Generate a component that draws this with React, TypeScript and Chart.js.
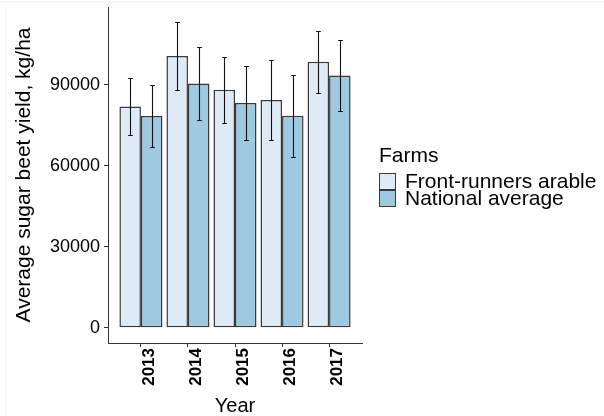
import React, { useEffect, useRef } from 'react';
import { Chart, registerables } from 'chart.js';

Chart.register(...registerables);

const years = ['2013', '2014', '2015', '2016', '2017'];
const frontRunners = [81900, 100600, 88100, 84300, 98500];
const frontRunnersSd = [10700, 12500, 12150, 14800, 11550];
const nationalAvg = [78400, 90400, 83200, 78500, 93400];
const nationalAvgSd = [11300, 13500, 13600, 15250, 13250];
const yTicks = [0, 30000, 60000, 90000];
const seriesNames = ['Front-runners arable', 'National average'];
const seriesColors = ['#DEEBF7', '#9ECAE1'];
const legendTitle = 'Farms';
const xTitle = 'Year';
const yTitle = 'Average sugar beet yield, kg/ha';

const FONT = "'Liberation Sans', Arial, sans-serif";
const OUTLINE = '#3a3a3a';

const errorBarPlugin = {
  id: 'errorBars',
  afterDatasetsDraw(chart: any) {
    const ctx = chart.ctx;
    const xs = chart.scales.x;
    const ys = chart.scales.y;
    const capHalf = (xs.getPixelForValue(1.1) - xs.getPixelForValue(1)) / 2;
    ctx.save();
    ctx.strokeStyle = '#111';
    ctx.lineWidth = 1.1;
    chart.data.datasets.forEach((ds: any, di: number) => {
      const meta = chart.getDatasetMeta(di);
      meta.data.forEach((bar: any, i: number) => {
        const v = ds.data[i].y;
        const sd = ds.sd[i];
        const x = Math.round(bar.x) + 0.5;
        const yT = Math.round(ys.getPixelForValue(v + sd)) + 0.5;
        const yB = Math.round(ys.getPixelForValue(v - sd)) + 0.5;
        ctx.beginPath();
        ctx.moveTo(x, yT);
        ctx.lineTo(x, yB);
        ctx.moveTo(x - capHalf, yT);
        ctx.lineTo(x + capHalf, yT);
        ctx.moveTo(x - capHalf, yB);
        ctx.lineTo(x + capHalf, yB);
        ctx.stroke();
      });
    });
    ctx.restore();
  },
};

const legendPlugin = {
  id: 'customLegend',
  beforeDraw(chart: any) {
    const ctx = chart.ctx;
    ctx.save();
    ctx.fillStyle = '#f1faf1';
    ctx.fillRect(0, 1, chart.width, 2);
    ctx.fillRect(5, 6, 1, chart.height - 6);
    ctx.restore();
  },
  afterDraw(chart: any) {
    const ctx = chart.ctx;
    const left = chart.chartArea.right + 17;
    ctx.save();
    ctx.font = `21px ${FONT}`;
    ctx.fillStyle = '#000';
    ctx.textBaseline = 'middle';
    ctx.textAlign = 'left';
    ctx.fillText(legendTitle, left, 156);
    const key = 17;
    const top0 = 173;
    seriesNames.forEach((name, k) => {
      const top = top0 + k * key;
      ctx.fillStyle = seriesColors[k];
      ctx.fillRect(left, top, key, key);
      ctx.strokeStyle = OUTLINE;
      ctx.lineWidth = 1;
      ctx.strokeRect(left + 0.5, top + 0.5, key - 1, key - 1);
      ctx.fillStyle = '#000';
      ctx.fillText(name, left + 26, top + key / 2 + 0.5);
    });
    ctx.restore();
  },
};

export default function App() {
  const ref = useRef<HTMLCanvasElement | null>(null);

  useEffect(() => {
    document.body.style.margin = '0';
    const canvas = ref.current;
    if (!canvas) return;
    const allTops = [
      ...frontRunners.map((v, i) => v + frontRunnersSd[i]),
      ...nationalAvg.map((v, i) => v + nationalAvgSd[i]),
    ];
    const top = Math.max(...allTops);
    const pad = top * 0.05;

    const chart = new Chart(canvas, {
      type: 'bar',
      data: {
        datasets: [frontRunners, nationalAvg].map((vals, k) => ({
          label: seriesNames[k],
          data: vals.map((v, i) => ({ x: i + 1, y: v })),
          backgroundColor: seriesColors[k],
          borderColor: OUTLINE,
          borderWidth: 1.5,
          borderSkipped: false,
          categoryPercentage: 0.915,
          barPercentage: 1,
          sd: k === 0 ? frontRunnersSd : nationalAvgSd,
        })) as any,
      },
      options: {
        animation: false,
        responsive: false,
        devicePixelRatio: 1,
        layout: { padding: { left: 0, top: 7, right: 242, bottom: 0 } },
        plugins: {
          legend: { display: false },
          tooltip: { enabled: false },
        },
        scales: {
          x: {
            type: 'linear',
            min: 0.3,
            max: 5.7,
            offset: false,
            afterBuildTicks: (s: any) => {
              s.ticks = years.map((_, i) => ({ value: i + 1 }));
            },
            afterFit: (s: any) => {
              s.height = 73;
              s.paddingLeft = 0;
              s.paddingRight = 0;
              s.paddingTop = 0;
              s.paddingBottom = 0;
            },
            grid: {
              display: true,
              offset: false,
              drawOnChartArea: false,
              drawTicks: true,
              tickLength: 4,
              color: '#333',
            },
            border: { display: true, color: '#333', width: 1 },
            ticks: {
              autoSkip: false,
              minRotation: 90,
              maxRotation: 90,
              padding: 1,
              labelOffset: 8.5,
              color: '#000',
              font: { family: FONT, size: 17, weight: 'bold', lineHeight: 1 },
              callback: (v: any) => years[Number(v) - 1] ?? '',
            },
            title: {
              display: true,
              text: xTitle,
              color: '#000',
              font: { family: FONT, size: 20, lineHeight: 1 },
              padding: 0,
            },
          },
          y: {
            type: 'linear',
            min: -pad,
            max: top + pad,
            afterBuildTicks: (s: any) => {
              s.ticks = yTicks.map((v) => ({ value: v }));
            },
            afterFit: (s: any) => {
              s.width = 108;
              s.paddingLeft = 0;
              s.paddingRight = 0;
              s.paddingTop = 0;
              s.paddingBottom = 0;
            },
            grid: {
              display: true,
              offset: false,
              drawOnChartArea: false,
              drawTicks: true,
              tickLength: 4,
              color: '#333',
            },
            border: { display: true, color: '#333', width: 1 },
            ticks: {
              padding: 4,
              color: '#000',
              font: { family: FONT, size: 18 },
              callback: (v: any) => String(v),
            },
            title: {
              display: true,
              text: yTitle,
              color: '#000',
              font: { family: FONT, size: 21, lineHeight: 1 },
              padding: { top: 14, bottom: 0 },
            },
          },
        },
      } as any,
      plugins: [errorBarPlugin, legendPlugin],
    });
    return () => chart.destroy();
  }, []);

  return (
    <div style={{ width: 604, height: 416, position: 'relative', background: '#fff' }}>
      <canvas ref={ref} width={604} height={416} style={{ display: 'block' }} />
    </div>
  );
}
